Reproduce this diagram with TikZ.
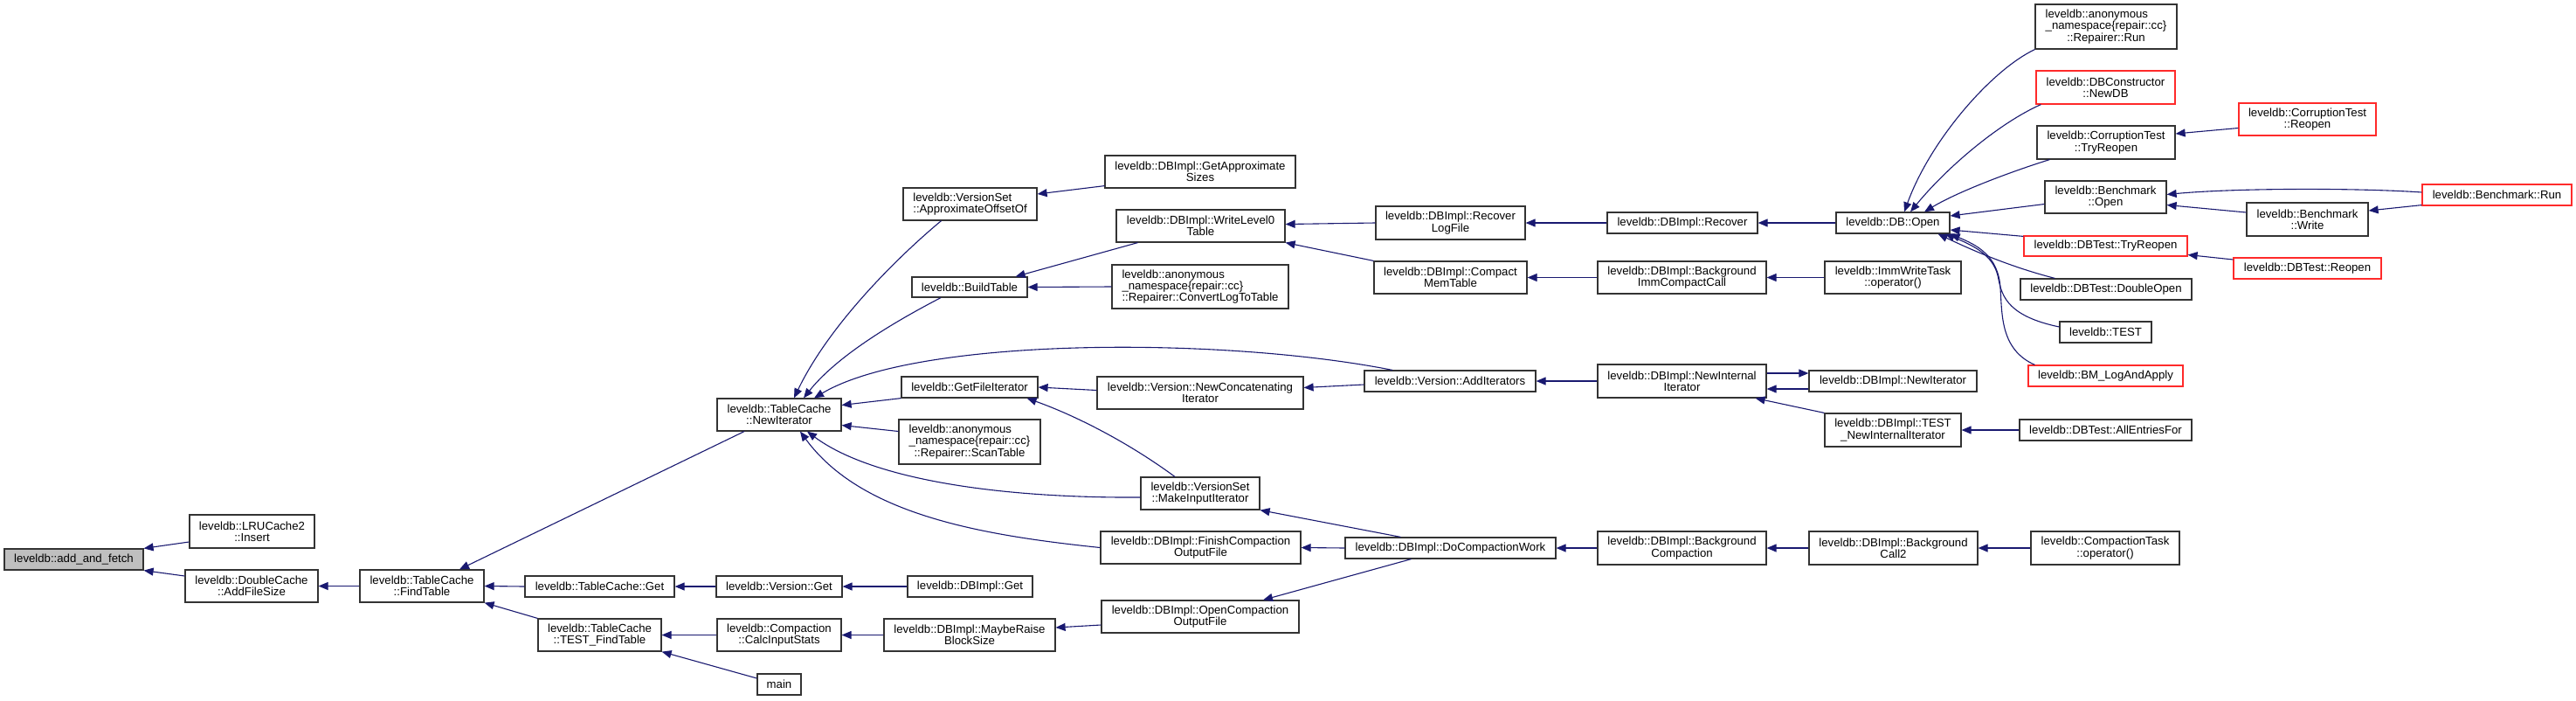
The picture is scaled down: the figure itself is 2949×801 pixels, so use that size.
\documentclass[tikz,border=0pt]{standalone}
\usepackage{fontspec}
\setmainfont{Liberation Sans}
\usetikzlibrary{arrows.meta,calc}
\definecolor{edgec}{HTML}{191970}
\definecolor{rootfill}{HTML}{BFBFBF}
\definecolor{boxline}{HTML}{333333}
\definecolor{redline}{HTML}{FF2A2A}
\newcommand\anonhead{\leavevmode\setbox0=\hbox{\_namespace\{repair::cc\}}\hbox to\wd0{leveldb::anonymous\hfil}}
\newcommand\bx[7][]{%
 \pgfmathsetmacro\bxcx{(#3+#5)/2}%
 \pgfmathsetmacro\bxcy{(#4+#6)/2}%
 \pgfmathsetmacro\bxw{#5-#3}%
 \pgfmathsetmacro\bxh{#6-#4}%
 \node[box,minimum width=\bxw pt,minimum height=\bxh pt,#1] (#2) at (\bxcx,\bxcy) {#7};}
\tikzset{
 box/.style={draw=boxline, line width=1.2pt, inner sep=0pt, align=center, font=\fontsize{13.2}{13.3}\selectfont},
 rootbox/.style={fill=rootfill},
 redbox/.style={draw=redline},
 leftbox/.style={align=left},
 edge/.style={draw=edgec, line width=1.1pt, -{Triangle[length=11pt,width=9pt]}}
}
\begin{document}
\begin{tikzpicture}[x=1pt,y=-1pt]
\useasboundingbox (0,0) rectangle (2949,801);
% nodes
\bx[rootbox]{root}{5}{628}{164}{652}{leveldb::add\_and\_fetch}
\bx{lru}{217}{589}{360}{627}{leveldb::LRUCache2\\::Insert}
\bx{addfs}{212}{652}{364}{689}{leveldb::DoubleCache\\::AddFileSize}
\bx{findt}{412}{652}{554}{689}{leveldb::TableCache\\::FindTable}
\bx{newit}{821}{456}{963}{493}{leveldb::TableCache\\::NewIterator}
\bx{tcget}{601}{659}{772}{683}{leveldb::TableCache::Get}
\bx{testft}{616}{708}{757}{745}{leveldb::TableCache\\::TEST\_FindTable}
\bx{vget}{820}{659}{964}{683}{leveldb::Version::Get}
\bx{calcin}{821}{708}{963}{745}{leveldb::Compaction\\::CalcInputStats}
\bx{main}{867}{771}{917}{795}{main}
\bx{dbiget}{1039}{659}{1182}{683}{leveldb::DBImpl::Get}
\bx{maybe}{1012}{708}{1208}{745}{leveldb::DBImpl::MaybeRaise\\BlockSize}
\bx{approxsz}{1265}{178}{1483}{215}{leveldb::DBImpl::GetApproximate\\Sizes}
\bx[leftbox]{approxoff}{1034}{215}{1187}{252}{leveldb::VersionSet\\::ApproximateOffsetOf}
\bx{wl0}{1278}{240}{1471}{277}{leveldb::DBImpl::WriteLevel0\\Table}
\bx{build}{1044}{317}{1176}{340}{leveldb::BuildTable}
\bx[leftbox]{convert}{1273}{303}{1475}{353}{leveldb::anonymous\\\_namespace\{repair::cc\}\\::Repairer::ConvertLogToTable}
\bx{getfi}{1032}{431}{1188}{455}{leveldb::GetFileIterator}
\bx{newconcat}{1256}{431}{1492}{468}{leveldb::Version::NewConcatenating\\Iterator}
\bx{scan}{1029}{480}{1191}{531}{\anonhead\\\_namespace\{repair::cc\}\\::Repairer::ScanTable}
\bx{makeinput}{1306}{546}{1442}{583}{leveldb::VersionSet\\::MakeInputIterator}
\bx{finish}{1260}{608}{1489}{645}{leveldb::DBImpl::FinishCompaction\\OutputFile}
\bx{opencomp}{1261}{687}{1487}{724}{leveldb::DBImpl::OpenCompaction\\OutputFile}
\bx{docomp}{1540}{615}{1781}{639}{leveldb::DBImpl::DoCompactionWork}
\bx{recoverlog}{1575}{236}{1746}{274}{leveldb::DBImpl::Recover\\LogFile}
\bx{recover}{1840}{243}{2012}{267}{leveldb::DBImpl::Recover}
\bx{compactmem}{1573}{299}{1748}{336}{leveldb::DBImpl::Compact\\MemTable}
\bx{bgimm}{1829}{299}{2022}{336}{leveldb::DBImpl::Background\\ImmCompactCall}
\bx{additer}{1562}{424}{1758}{448}{leveldb::Version::AddIterators}
\bx{newint}{1829}{417}{2022}{455}{leveldb::DBImpl::NewInternal\\Iterator}
\bx{bgcomp}{1829}{608}{2022}{646}{leveldb::DBImpl::Background\\Compaction}
\bx{bgcall2}{2071}{608}{2264}{646}{leveldb::DBImpl::Background\\Call2}
\bx{ctask}{2325}{608}{2495}{646}{leveldb::CompactionTask\\::operator()}
\bx{dbopen}{2102}{243}{2232}{267}{leveldb::DB::Open}
\bx{immw}{2089}{299}{2245}{336}{leveldb::ImmWriteTask\\::operator()}
\bx{dbinewit}{2071}{424}{2263}{448}{leveldb::DBImpl::NewIterator}
\bx{testnii}{2089}{473}{2245}{511}{leveldb::DBImpl::TEST\\\_NewInternalIterator}
\bx{allent}{2312}{480}{2509}{504}{leveldb::DBTest::AllEntriesFor}
\bx{run}{2330}{5}{2492}{56}{\anonhead\\\_namespace\{repair::cc\}\\::Repairer::Run}
\bx[redbox]{newdb}{2331}{81}{2490}{119}{leveldb::DBConstructor\\::NewDB}
\bx{ctry}{2332}{144}{2490}{182}{leveldb::CorruptionTest\\::TryReopen}
\bx{bopen}{2341}{207}{2480}{244}{leveldb::Benchmark\\::Open}
\bx[redbox]{dtry}{2317}{270}{2504}{293}{leveldb::DBTest::TryReopen}
\bx{dopen}{2313}{319}{2509}{343}{leveldb::DBTest::DoubleOpen}
\bx{ltest}{2358}{368}{2463}{392}{leveldb::TEST}
\bx[redbox]{bmlog}{2322}{418}{2499}{442}{leveldb::BM\_LogAndApply}
\bx[redbox]{creopen}{2563}{118}{2720}{155}{leveldb::CorruptionTest\\::Reopen}
\bx[redbox]{brun}{2773}{211}{2944}{235}{leveldb::Benchmark::Run}
\bx{bwrite}{2572}{232}{2711}{270}{leveldb::Benchmark\\::Write}
\bx[redbox]{dreopen}{2557}{295}{2726}{319}{leveldb::DBTest::Reopen}
% edges
\draw[edge] ($(lru.west)+(0,12)$) -- (root.north east);
\draw[edge] ($(addfs.west)+(0,-11.5)$) -- (root.south east);
\draw[edge] (findt.west) -- (addfs.east);
\draw[edge] ($(newit.south)+(-40,0)$) -- ($(findt.north)+(43,0)$);
\draw[edge] (tcget.west) -- (findt.east);
\draw[edge] (testft.north west) -- (findt.south east);
\draw[edge] (vget.west) -- (tcget.east);
\draw[edge] (dbiget.west) -- (vget.east);
\draw[edge] (calcin.west) -- (testft.east);
\draw[edge] ($(main.west)+(0,-7)$) -- (testft.south east);
\draw[edge] (maybe.west) -- (calcin.east);
\draw[edge] ($(opencomp.west)+(0,9.5)$) -- ($(maybe.east)+(0,-8.5)$);
\draw[edge] ($(docomp.south)+(-45,0)$) -- ($(opencomp.north)+(72,0)$);
\draw[edge] (docomp.west) -- (finish.east);
\draw[edge] ($(docomp.north)+(-57,0)$) -- (makeinput.south east);
\draw[edge] (bgcomp.west) -- (docomp.east);
\draw[edge] (bgcall2.west) -- (bgcomp.east);
\draw[edge] (ctask.west) -- (bgcall2.east);
\draw[edge] (finish.west) .. controls (1120,612) and (985,588) .. ($(newit.south)+(24,0)$);
\draw[edge] ($(makeinput.west)+(0,4.5)$) .. controls (1150,570) and (1000,550) .. ($(newit.south)+(32,0)$);
\draw[edge] ($(makeinput.north)+(-29,0)$) .. controls (1290,505) and (1230,475) .. ($(getfi.south east)+(-13,0)$);
\draw[edge] ($(newconcat.west)+(0,-3)$) -- (getfi.east);
\draw[edge] (getfi.south west) -- ($(newit.east)+(0,-11)$);
\draw[edge] ($(scan.west)+(0,-12)$) -- ($(newit.east)+(0,12)$);
\draw[edge] ($(approxoff.south)+(-33,0)$) .. controls (1030,292) and (950,370) .. ($(newit.north)+(17,0)$);
\draw[edge] ($(build.south)+(-33,0)$) .. controls (1030,365) and (960,405) .. ($(newit.north)+(28,0)$);
\draw[edge] ($(additer.north)+(-66,0)$) .. controls (1400,385) and (1050,385) .. ($(newit.north)+(40,0)$);
\draw[edge] ($(additer.west)+(0,4)$) -- ($(newconcat.east)+(0,-6)$);
\draw[edge] (newint.west) -- (additer.east);
\draw[edge] ($(dbinewit.west)+(0,9)$) -- ($(newint.east)+(0,9)$);
\draw[edge] ($(newint.east)+(0,-9)$) -- ($(dbinewit.west)+(0,-9)$);
\draw[edge] (testnii.north west) -- ($(newint.south east)+(-13,0)$);
\draw[edge] (allent.west) -- (testnii.east);
\draw[edge] ($(wl0.south)+(-72,0)$) -- ($(build.north east)+(-14,0)$);
\draw[edge] (convert.west) -- (build.east);
\draw[edge] ($(approxsz.south west)+(0,-3)$) -- ($(approxoff.east)+(0,-11.5)$);
\draw[edge] (recoverlog.west) -- ($(wl0.east)+(0,-2)$);
\draw[edge] (compactmem.north west) -- (wl0.south east);
\draw[edge] (recover.west) -- (recoverlog.east);
\draw[edge] (dbopen.west) -- (recover.east);
\draw[edge] (bgimm.west) -- (compactmem.east);
\draw[edge] (immw.west) -- (bgimm.east);
\draw[edge] (run.south west) .. controls (2280,80) and (2210,160) .. ($(dbopen.north)+(13,0)$);
\draw[edge] ($(newdb.south west)+(6,0)$) .. controls (2290,140) and (2230,190) .. ($(dbopen.north)+(20,0)$);
\draw[edge] ($(ctry.south west)+(15,0)$) .. controls (2300,197) and (2240,220) .. ($(dbopen.north)+(36,0)$);
\draw[edge] ($(bopen.west)+(0,8)$) -- ($(dbopen.east)+(0,-8)$);
\draw[edge] ($(dtry.north west)+(0,1)$) -- ($(dbopen.east)+(0,8)$);
\draw[edge] ($(dopen.north west)+(40,0)$) .. controls (2300,305) and (2255,285) .. ($(dbopen.south east)+(-14,0)$);
\draw[edge] ($(ltest.west)+(0,-6)$) .. controls (2300,362) and (2292,340) .. (2288,320) .. controls (2284,295) and (2265,283) .. ($(dbopen.south east)+(-6,0)$);
\draw[edge] ($(bmlog.north west)+(8,0)$) .. controls (2290,400) and (2292,360) .. (2290,330) .. controls (2288,292) and (2262,280) .. (dbopen.south east);
\draw[edge] ($(creopen.west)+(0,10)$) -- ($(ctry.east)+(0,-10)$);
\draw[edge] ($(brun.west)+(0,-3)$) .. controls (2700,215) and (2560,215) .. ($(bopen.east)+(0,-3)$);
\draw[edge] ($(bwrite.west)+(0,-8)$) -- ($(bopen.east)+(0,9)$);
\draw[edge] ($(brun.south west)+(0,-1)$) -- ($(bwrite.east)+(0,-10)$);
\draw[edge] ($(dreopen.west)+(0,-10)$) -- ($(dtry.east)+(0,10)$);
\end{tikzpicture}
\end{document}
